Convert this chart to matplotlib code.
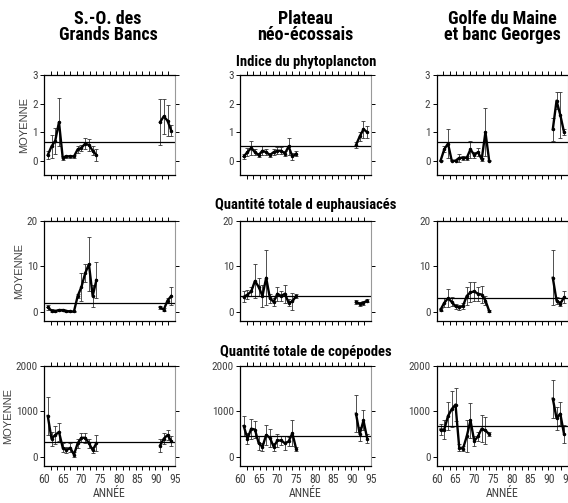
import numpy as np
import matplotlib
matplotlib.use("Agg")
import matplotlib.pyplot as plt

plt.rcParams['font.family'] = ['Roboto Condensed', 'DejaVu Sans']

col_titles = ["S.-O. des\nGrands Bancs", "Plateau\nnéo-écossais", "Golfe du Maine\net banc Georges"]
row_titles = ["Indice du phytoplancton", "Quantité totale d euphausiacés", "Quantité totale de copépodes"]

years_a = list(range(61, 75))
years_b = list(range(61, 76))
years_90 = [91, 92, 93, 94]

# phytoplancton
phyto_sogb = [0.2, 0.5, 0.7, 1.35, 0.1, 0.15, 0.15, 0.15, 0.4, 0.45, 0.6, 0.55, 0.35, 0.2]
phyto_sogb_err = [0.15, 0.4, 0.45, 0.85, 0.07, 0.06, 0.06, 0.06, 0.12, 0.1, 0.2, 0.2, 0.15, 0.2]
phyto_sogb_90 = [1.35, 1.55, 1.4, 1.05]
phyto_sogb_90_err = [0.8, 0.6, 0.55, 0.2]

phyto_pne = [0.15, 0.3, 0.45, 0.3, 0.2, 0.35, 0.3, 0.2, 0.3, 0.35, 0.35, 0.25, 0.5, 0.15, 0.25]
phyto_pne_err = [0.08, 0.15, 0.25, 0.1, 0.08, 0.15, 0.1, 0.08, 0.1, 0.12, 0.12, 0.1, 0.3, 0.12, 0.08]
phyto_pne_90 = [0.55, 0.85, 1.1, 1.0]
phyto_pne_90_err = [0.1, 0.15, 0.3, 0.2]

phyto_gm = [0.0, 0.4, 0.6, 0.0, 0.0, 0.1, 0.1, 0.1, 0.4, 0.2, 0.3, 0.05, 1.0, 0.0]
phyto_gm_err = [0.02, 0.1, 0.5, 0.02, 0.02, 0.15, 0.08, 0.08, 0.3, 0.1, 0.15, 0.05, 0.85, 0.02]
phyto_gm_90 = [1.1, 2.1, 1.6, 1.0]
phyto_gm_90_err = [0.4, 0.3, 0.8, 0.1]

# euphausiaces
euph_sogb = [1.0, 0.3, 0.2, 0.4, 0.4, 0.2, 0.1, 0.1, 3.5, 5.5, 8.5, 10.5, 3.5, 7.0]
euph_sogb_err = [0.6, 0.3, 0.2, 0.3, 0.3, 0.2, 0.1, 0.1, 0.5, 3.0, 2.0, 6.0, 2.5, 4.0]
euph_sogb_90 = [1.0, 0.5, 2.5, 3.5]
euph_sogb_90_err = [0.3, 0.3, 0.5, 2.0]

euph_pne = [3.3, 3.8, 4.5, 6.8, 5.5, 3.5, 7.5, 3.0, 2.2, 4.0, 3.5, 4.0, 2.0, 2.3, 3.5]
euph_pne_err = [1.2, 1.0, 1.0, 3.7, 2.0, 2.5, 6.0, 1.0, 0.8, 1.5, 1.0, 2.0, 0.8, 1.8, 0.5]
euph_pne_90 = [2.2, 1.8, 2.0, 2.5]
euph_pne_90_err = [0.4, 0.4, 0.4, 0.4]

euph_gm = [0.5, 2.0, 3.0, 2.2, 1.2, 1.0, 1.3, 3.5, 4.3, 4.5, 4.0, 3.8, 2.5, 0.2]
euph_gm_err = [0.3, 1.0, 2.0, 1.0, 0.6, 0.6, 0.6, 2.0, 2.2, 2.0, 1.5, 1.9, 1.0, 0.2]
euph_gm_90 = [7.5, 2.5, 1.8, 3.2]
euph_gm_90_err = [6.0, 0.8, 0.5, 1.3]

# copepodes
cop_sogb = [900, 400, 480, 550, 200, 150, 200, 50, 300, 420, 420, 300, 150, 300]
cop_sogb_err = [420, 150, 200, 200, 100, 60, 100, 50, 100, 100, 110, 100, 60, 170]
cop_sogb_90 = [250, 400, 480, 350]
cop_sogb_90_err = [150, 120, 120, 100]

cop_pne = [680, 400, 620, 600, 300, 220, 480, 420, 220, 360, 360, 300, 340, 520, 180]
cop_pne_err = [220, 120, 220, 180, 150, 80, 220, 200, 80, 140, 100, 150, 100, 280, 40]
cop_pne_90 = [950, 500, 800, 400]
cop_pne_90_err = [400, 150, 220, 100]

cop_gm = [600, 600, 900, 1050, 1150, 200, 180, 450, 800, 350, 450, 620, 580, 500]
cop_gm_err = [130, 200, 300, 400, 370, 80, 60, 350, 380, 100, 100, 300, 300, 50]
cop_gm_90 = [1280, 850, 950, 500]
cop_gm_90_err = [420, 250, 250, 200]

means = [[0.67, 0.52, 0.67], [2.05, 3.5, 2.95], [330, 450, 680]]
ylims = [(-0.5, 3), (-2, 20), (-200, 2000)]
yticks = [[0, 1, 2, 3], [0, 10, 20], [0, 1000, 2000]]

panels = [
    [(years_a, phyto_sogb, phyto_sogb_err, phyto_sogb_90, phyto_sogb_90_err),
     (years_b, phyto_pne, phyto_pne_err, phyto_pne_90, phyto_pne_90_err),
     (years_a, phyto_gm, phyto_gm_err, phyto_gm_90, phyto_gm_90_err)],
    [(years_a, euph_sogb, euph_sogb_err, euph_sogb_90, euph_sogb_90_err),
     (years_b, euph_pne, euph_pne_err, euph_pne_90, euph_pne_90_err),
     (years_a, euph_gm, euph_gm_err, euph_gm_90, euph_gm_90_err)],
    [(years_a, cop_sogb, cop_sogb_err, cop_sogb_90, cop_sogb_90_err),
     (years_b, cop_pne, cop_pne_err, cop_pne_90, cop_pne_90_err),
     (years_a, cop_gm, cop_gm_err, cop_gm_90, cop_gm_90_err)],
]

fig = plt.figure(figsize=(5.68, 5.03), dpi=100)
lefts = [0.0775, 0.4225, 0.769]
bottoms = [0.652, 0.3618, 0.0736]
w, h = 0.2306, 0.199
gray = "#404040"

for r in range(3):
    for c in range(3):
        ax = fig.add_axes([lefts[c], bottoms[r], w, h])
        yrs, vals, errs, vals90, errs90 = panels[r][c]
        for xs, ys, es in [(yrs, vals, errs), (years_90, vals90, errs90)]:
            ax.errorbar(xs, ys, yerr=es, color="black", lw=1.7, elinewidth=0.6,
                        ecolor="#333333", capsize=1.5, capthick=0.6,
                        marker="o", ms=1.5)
        ax.axhline(means[r][c], color="black", lw=0.9)
        ax.set_xlim(60, 95)
        ax.set_ylim(*ylims[r])
        ax.set_yticks(yticks[r])
        ax.set_xticks(np.linspace(60, 95, 21), minor=True)
        ax.set_xticks([60, 65, 70, 75, 80, 85, 90, 95])
        ax.tick_params(axis="x", which="major", length=0, top=False, labelsize=8.5,
                       labelcolor=gray, pad=5)
        ax.tick_params(axis="x", which="minor", length=3, top=True, bottom=True, width=0.7)
        ax.tick_params(axis="y", length=3, right=True, width=0.7, labelsize=8,
                       labelcolor=gray, pad=1.5)
        if r < 2:
            ax.set_xticklabels([])
        else:
            ax.set_xlabel("ANNÉE", fontsize=8.5, color=gray, labelpad=1)
        for side in ["top", "bottom", "left"]:
            ax.spines[side].set_linewidth(0.9)
        ax.spines["right"].set_color("#999999")
        ax.spines["right"].set_linewidth(0.8)
        if c == 0:
            ax.set_ylabel("MOYENNE", fontsize=8, color=gray, labelpad=2,
                          family=["Liberation Sans", "DejaVu Sans"])

col_x = [0.190, 0.537, 0.884]
for c in range(3):
    fig.text(col_x[c], 0.946, col_titles[c], ha="center", va="center",
             fontsize=13, fontweight="bold", linespacing=0.85)
row_y = [0.877, 0.592, 0.300]
for r in range(3):
    fig.text(0.539, row_y[r], row_titles[r], ha="center", va="center",
             fontsize=10.5, fontweight="bold")

fig.savefig("out.png", dpi=100)
